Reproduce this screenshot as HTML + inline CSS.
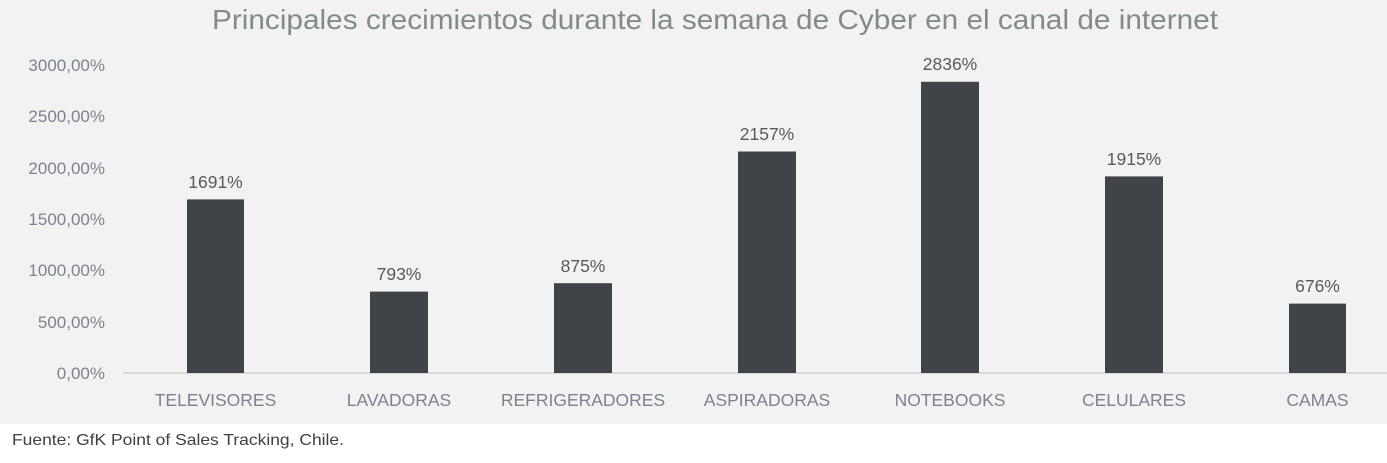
<!DOCTYPE html>
<html><head><meta charset="utf-8"><style>
html,body{margin:0;padding:0;background:#fff;}
svg{display:block;}
text{font-family:"Liberation Sans",sans-serif;}
</style></head><body>
<svg width="1387" height="463" viewBox="0 0 1387 463">
<rect x="0" y="0" width="1387" height="424" fill="#f2f2f2"/>
<text x="212" y="29" font-size="28" fill="#828a8c" textLength="1006" lengthAdjust="spacingAndGlyphs">Principales crecimientos durante la semana de Cyber en el canal de internet</text>
<g font-size="17" fill="#7c8290" text-anchor="end">
<text x="105" y="379">0,00%</text>
<text x="105" y="328">500,00%</text>
<text x="105" y="276">1000,00%</text>
<text x="105" y="225">1500,00%</text>
<text x="105" y="174">2000,00%</text>
<text x="105" y="122">2500,00%</text>
<text x="105" y="71">3000,00%</text>
</g>
<line x1="123" y1="373" x2="1387" y2="373" stroke="#d9d9d9" stroke-width="2"/>
<g fill="#404347">
<rect x="187" y="199.4" width="57" height="173.6"/>
<rect x="370" y="291.6" width="58" height="81.4"/>
<rect x="554" y="283.2" width="58" height="89.8"/>
<rect x="738" y="151.5" width="58" height="221.5"/>
<rect x="921" y="81.8" width="58" height="291.2"/>
<rect x="1105" y="176.4" width="58" height="196.6"/>
<rect x="1289" y="303.6" width="57" height="69.4"/>
</g>
<g font-size="17.5" fill="#595959" text-anchor="middle">
<text x="215.5" y="188">1691%</text>
<text x="399" y="280">793%</text>
<text x="583" y="272">875%</text>
<text x="767" y="140">2157%</text>
<text x="950" y="70">2836%</text>
<text x="1134" y="165">1915%</text>
<text x="1317.5" y="292">676%</text>
</g>
<g font-size="17.5" fill="#7c8290" text-anchor="middle">
<text x="215.5" y="406">TELEVISORES</text>
<text x="399" y="406">LAVADORAS</text>
<text x="583" y="406">REFRIGERADORES</text>
<text x="767" y="406">ASPIRADORAS</text>
<text x="950" y="406">NOTEBOOKS</text>
<text x="1134" y="406">CELULARES</text>
<text x="1317.5" y="406">CAMAS</text>
</g>
<text x="12" y="445" font-size="16" fill="#404040" textLength="332" lengthAdjust="spacingAndGlyphs">Fuente: GfK Point of Sales Tracking, Chile.</text>
</svg>
</body></html>
